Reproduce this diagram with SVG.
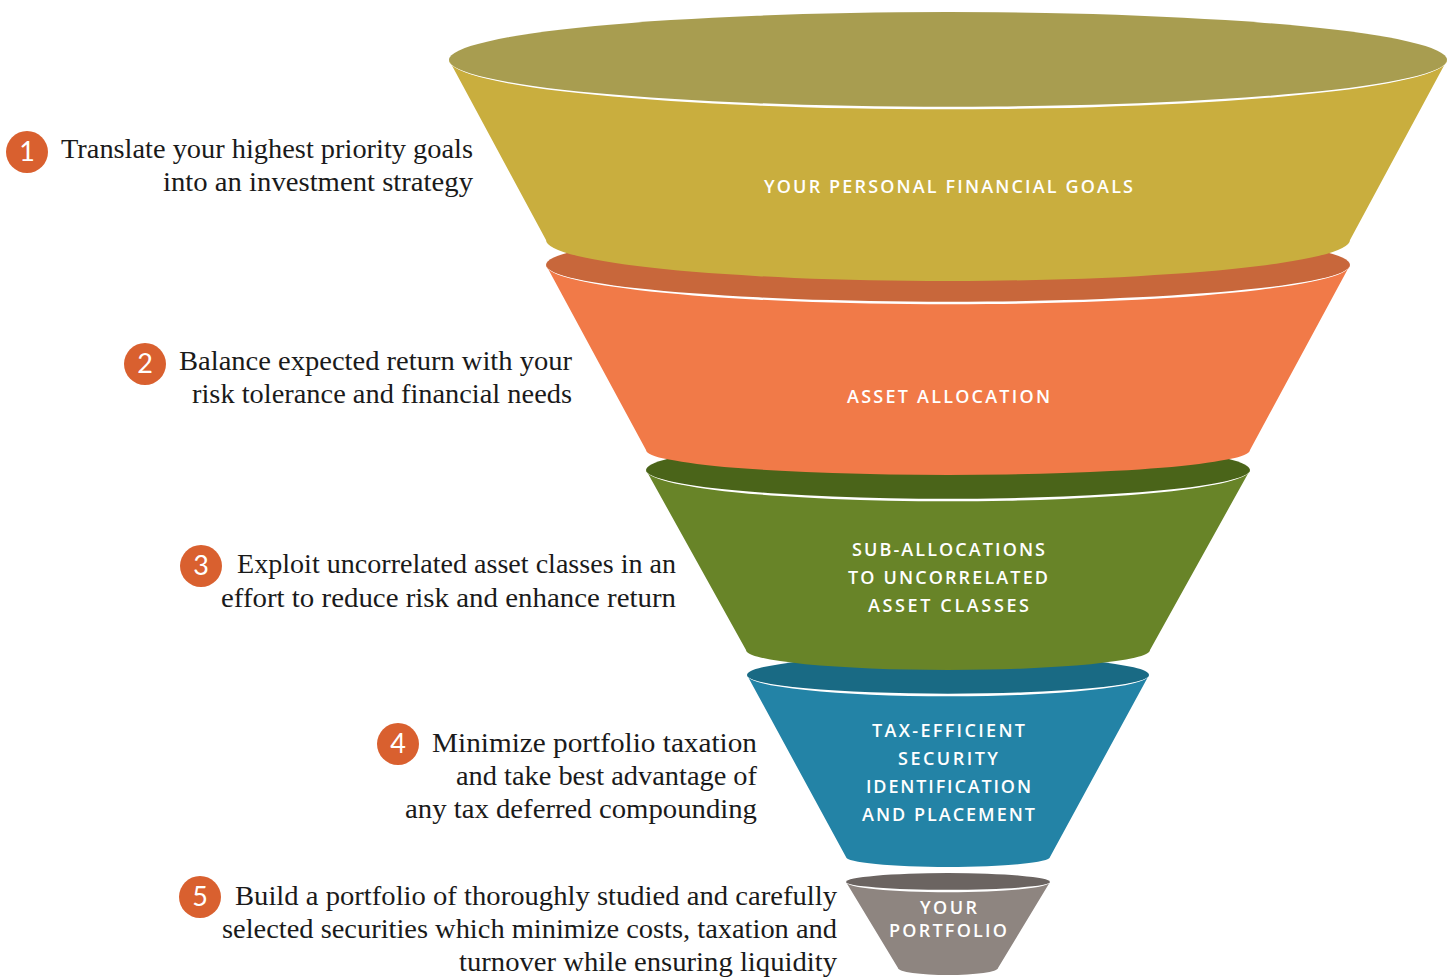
<svg xmlns="http://www.w3.org/2000/svg" width="1454" height="978" viewBox="0 0 1454 978">
  <style>
    .rim { fill: #ffffff; stroke: none; }
    .tag { font-family: "Open Sans", "Liberation Sans", Arial, sans-serif; font-weight: 600; font-size: 18px; fill: #ffffff; }
    .step { font-family: "Liberation Serif", "Times New Roman", serif; font-size: 28px; fill: #1a1a1a; }
    .badge { fill: #d9602f; }
    .num { font-family: "Lato", "Open Sans", sans-serif; font-weight: 400; font-size: 27px; fill: #ffffff; text-anchor: middle; }
  </style>

  <!-- funnel tiers, painted from the narrow end upward so each body overlaps the lid below it;
       each rim is a thin crescent that tapers to nothing at the lid's ends -->
  <g id="tier-5">
    <ellipse cx="948" cy="882" rx="102" ry="9" fill="#6b6461"/>
    <path d="M846,882 A102,9 0 0 0 1050,882 L998,968 A50,7 0 0 1 898,968 Z" fill="#8e8580"/>
    <path class="rim" d="M846,882 A102,10.2 0 0 0 1050,882 A102,7.8 0 0 1 846,882 Z"/>
    <text class="tag" x="920" y="914" textLength="57" lengthAdjust="spacing">YOUR</text>
    <text class="tag" x="889" y="937" textLength="118" lengthAdjust="spacing">PORTFOLIO</text>
  </g>

  <g id="tier-4">
    <ellipse cx="948" cy="675" rx="201" ry="20" fill="#196a84"/>
    <path d="M747,675 A201,20 0 0 0 1149,675 L1050,857 A102,10 0 0 1 846,857 Z" fill="#2383a6"/>
    <path class="rim" d="M747,675 A201,21.3 0 0 0 1149,675 A201,18.7 0 0 1 747,675 Z"/>
    <text class="tag" x="872" y="737" textLength="153" lengthAdjust="spacing">TAX-EFFICIENT</text>
    <text class="tag" x="898" y="765" textLength="100" lengthAdjust="spacing">SECURITY</text>
    <text class="tag" x="866" y="793" textLength="165" lengthAdjust="spacing">IDENTIFICATION</text>
    <text class="tag" x="862" y="821" textLength="173" lengthAdjust="spacing">AND PLACEMENT</text>
  </g>

  <g id="tier-3">
    <ellipse cx="948" cy="470" rx="302" ry="30" fill="#4a6419"/>
    <path d="M646,470 A302,30 0 0 0 1250,470 L1150,650 A202,20 0 0 1 746,650 Z" fill="#688428"/>
    <path class="rim" d="M646,470 A302,31.3 0 0 0 1250,470 A302,28.7 0 0 1 646,470 Z"/>
    <text class="tag" x="852" y="556" textLength="193" lengthAdjust="spacing">SUB-ALLOCATIONS</text>
    <text class="tag" x="848" y="584" textLength="200" lengthAdjust="spacing">TO UNCORRELATED</text>
    <text class="tag" x="868" y="612" textLength="161" lengthAdjust="spacing">ASSET CLASSES</text>
  </g>

  <g id="tier-2">
    <ellipse cx="948" cy="265" rx="402" ry="38" fill="#c8673b"/>
    <path d="M546,265 A402,38 0 0 0 1350,265 L1250,450 A302,25 0 0 1 646,450 Z" fill="#f17a48"/>
    <path class="rim" d="M546,265 A402,39.3 0 0 0 1350,265 A402,36.7 0 0 1 546,265 Z"/>
    <text class="tag" x="847" y="403" textLength="203" lengthAdjust="spacing">ASSET ALLOCATION</text>
  </g>

  <g id="tier-1">
    <ellipse cx="948" cy="60" rx="499" ry="48" fill="#a89d50"/>
    <path d="M449,60 A499,48 0 0 0 1447,60 L1350,240 A402,41 0 0 1 546,240 Z" fill="#c9ae3e"/>
    <path class="rim" d="M449,60 A499,49.3 0 0 0 1447,60 A499,46.7 0 0 1 449,60 Z"/>
    <text class="tag" x="764" y="193" textLength="369" lengthAdjust="spacing">YOUR PERSONAL FINANCIAL GOALS</text>
  </g>

  <!-- numbered steps -->
  <g id="step-1">
    <circle class="badge" cx="27" cy="152" r="21"/>
    <text class="num" x="27" y="161">1</text>
    <text class="step" x="61" y="158" textLength="412" lengthAdjust="spacingAndGlyphs">Translate your highest priority goals</text>
    <text class="step" x="163" y="191" textLength="310" lengthAdjust="spacingAndGlyphs">into an investment strategy</text>
  </g>

  <g id="step-2">
    <circle class="badge" cx="145" cy="364" r="21"/>
    <text class="num" x="145" y="373">2</text>
    <text class="step" x="179" y="370" textLength="393" lengthAdjust="spacingAndGlyphs">Balance expected return with your</text>
    <text class="step" x="192" y="403" textLength="380" lengthAdjust="spacingAndGlyphs">risk tolerance and financial needs</text>
  </g>

  <g id="step-3">
    <circle class="badge" cx="201" cy="566" r="21"/>
    <text class="num" x="201" y="575">3</text>
    <text class="step" x="237" y="573" textLength="439" lengthAdjust="spacingAndGlyphs">Exploit uncorrelated asset classes in an</text>
    <text class="step" x="221" y="607" textLength="455" lengthAdjust="spacingAndGlyphs">effort to reduce risk and enhance return</text>
  </g>

  <g id="step-4">
    <circle class="badge" cx="398" cy="744" r="21"/>
    <text class="num" x="398" y="753">4</text>
    <text class="step" x="432" y="752" textLength="325" lengthAdjust="spacingAndGlyphs">Minimize portfolio taxation</text>
    <text class="step" x="456" y="785" textLength="301" lengthAdjust="spacingAndGlyphs">and take best advantage of</text>
    <text class="step" x="405" y="818" textLength="352" lengthAdjust="spacingAndGlyphs">any tax deferred compounding</text>
  </g>

  <g id="step-5">
    <circle class="badge" cx="200" cy="897" r="21"/>
    <text class="num" x="200" y="906">5</text>
    <text class="step" x="235" y="905" textLength="602" lengthAdjust="spacingAndGlyphs">Build a portfolio of thoroughly studied and carefully</text>
    <text class="step" x="222" y="938" textLength="615" lengthAdjust="spacingAndGlyphs">selected securities which minimize costs, taxation and</text>
    <text class="step" x="459" y="971" textLength="378" lengthAdjust="spacingAndGlyphs">turnover while ensuring liquidity</text>
  </g>

  <!-- the funnel has no connectors; group kept for structure -->
  <g id="connectors"/>
</svg>
